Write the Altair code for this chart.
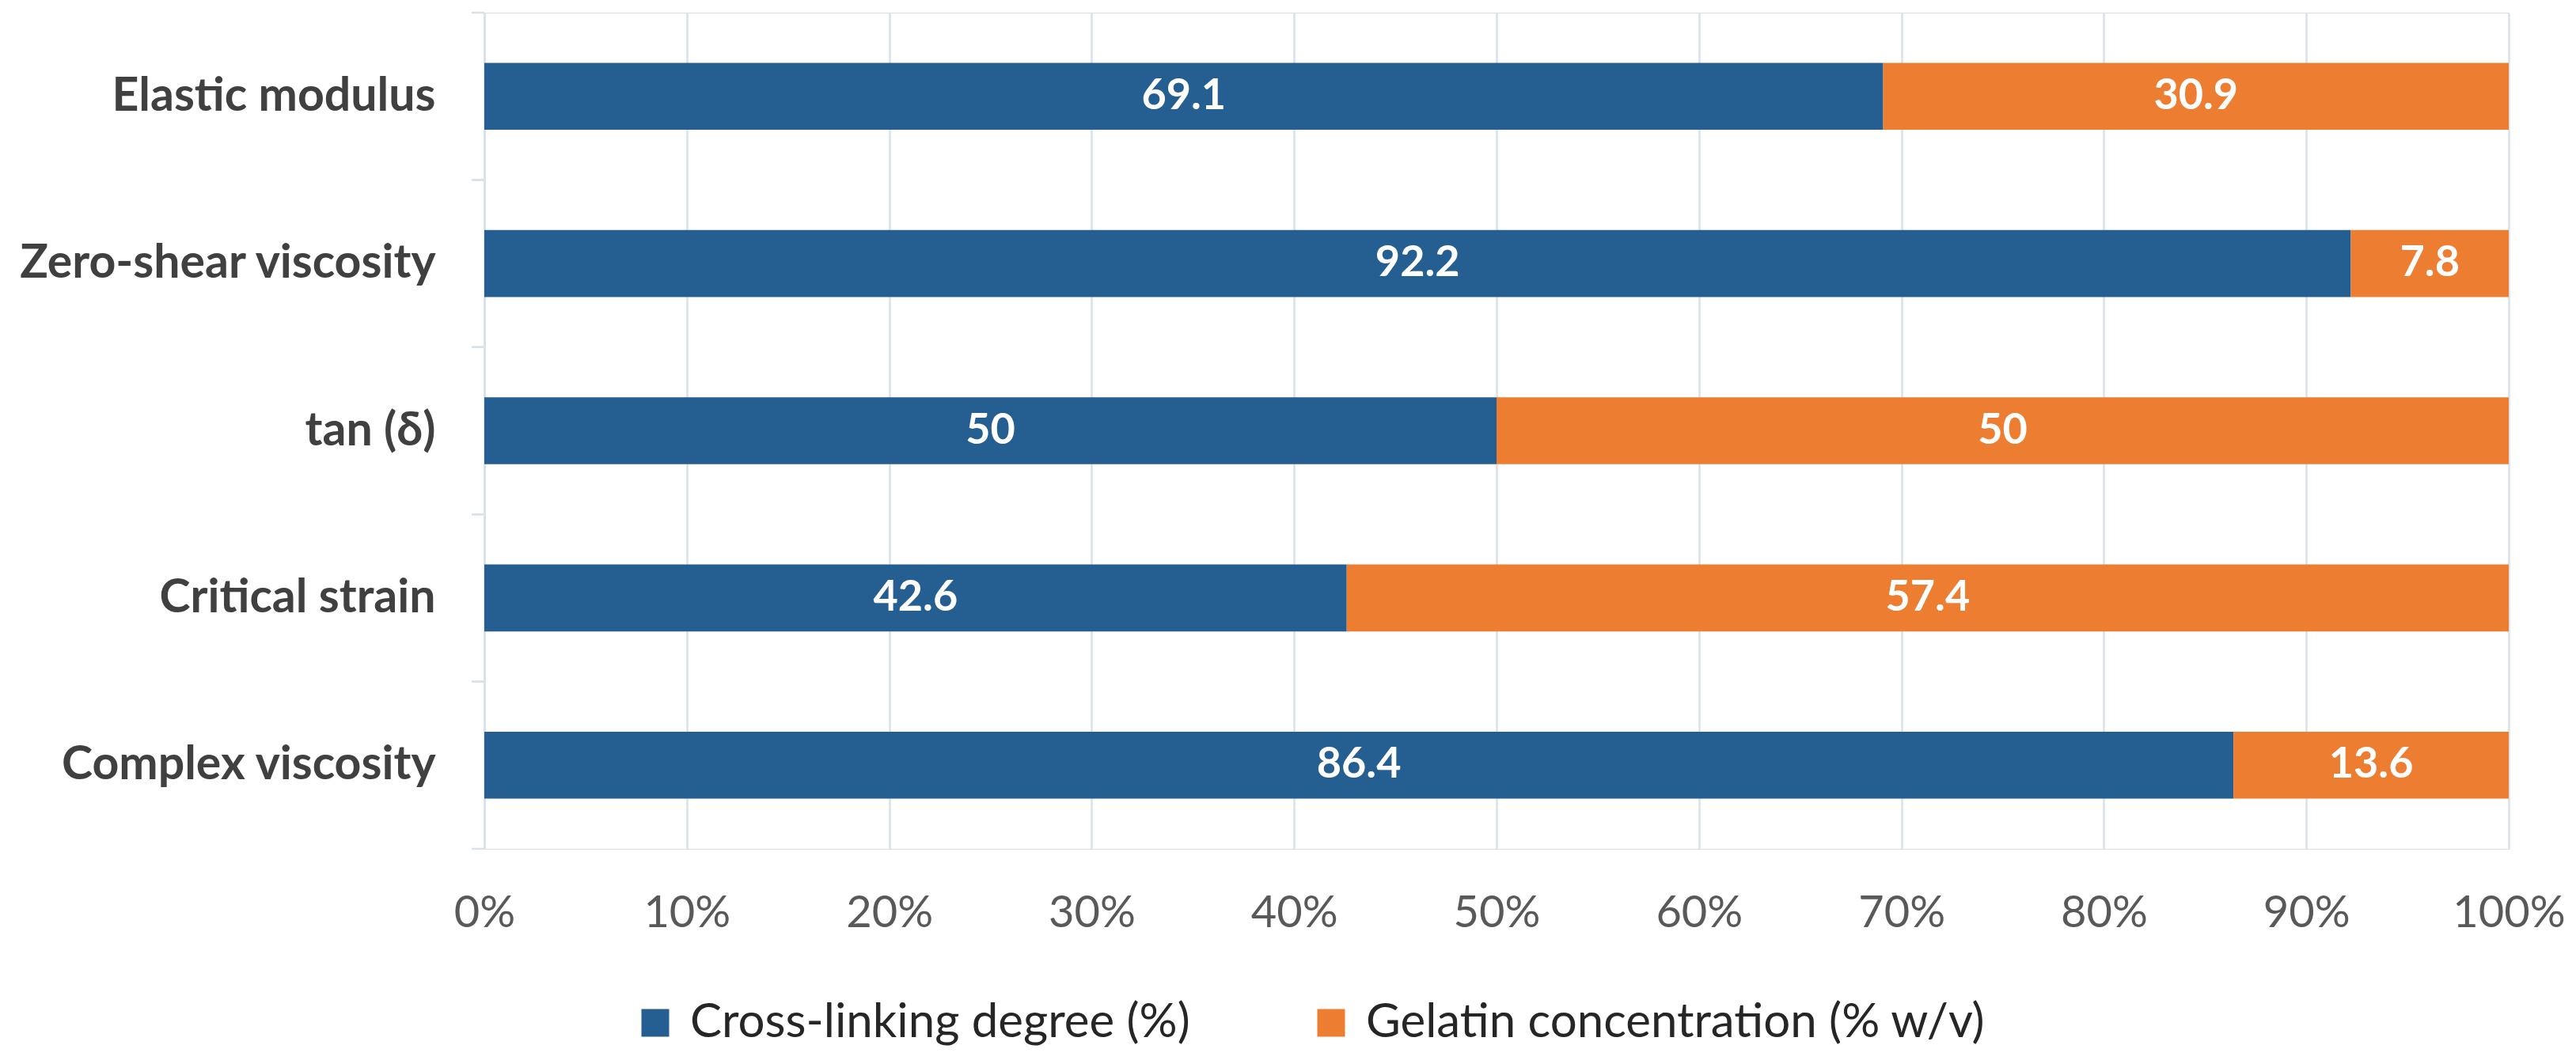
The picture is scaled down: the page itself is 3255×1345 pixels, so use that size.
import altair as alt
import pandas as pd

categories = ["Elastic modulus", "Zero-shear viscosity", "tan (δ)", "Critical strain", "Complex viscosity"]
series_names = ["Cross-linking degree (%)", "Gelatin concentration (% w/v)"]
cross_linking = [69.1, 92.2, 50, 42.6, 86.4]
gelatin = [30.9, 7.8, 50, 57.4, 13.6]
x_ticks = [0, 10, 20, 30, 40, 50, 60, 70, 80, 90, 100]
colors = ["#255E91", "#ED7D31"]

rows = []
for i, c in enumerate(categories):
    for j, vals in enumerate([cross_linking, gelatin]):
        v = vals[i]
        rows.append({"category": c, "series": series_names[j], "order": j,
                     "value": v, "label": f"{v:g}"})
df = pd.DataFrame(rows)

FONT = "Lato"
GRID = "#D9E1EA"

yscale = alt.Scale(domain=categories, paddingInner=0.6, paddingOuter=0.3)

base = alt.Chart(df).transform_window(
    cum="sum(value)", groupby=["category"], sort=[alt.SortField("order")]
).transform_calculate(
    start="datum.cum - datum.value",
    mid="datum.cum - datum.value / 2",
)

bars = base.mark_bar().encode(
    y=alt.Y("category:N", scale=yscale, title=None,
            axis=alt.Axis(ticks=False, labelPadding=62, labelFont=FONT, labelFontSize=59,
                          labelFontWeight="bold", labelColor="#404040", domainColor=GRID,
                          domainWidth=2.5, grid=False, labelLimit=1000)),
    x=alt.X("start:Q", scale=alt.Scale(domain=[0, 100], nice=False), title=None,
            axis=alt.Axis(values=x_ticks, labelExpr="datum.value + '%'", domain=False,
                          ticks=False, labelPadding=54, labelFont=FONT, labelFontSize=56,
                          labelFlush=False, labelOverlap=False, labelBound=False,
                          labelColor="#595959", gridColor=GRID, gridWidth=2.5, gridOpacity=1)),
    x2="cum:Q",
    color=alt.Color("series:N", scale=alt.Scale(domain=series_names, range=colors), title=None,
                    legend=alt.Legend(orient="none", legendX=186, legendY=1247, direction="horizontal",
                                      symbolType="square", symbolSize=1225, symbolStrokeWidth=0,
                                      symbolOpacity=1, labelFont=FONT, labelFontSize=60,
                                      labelColor="#262626", labelOffset=14, columnPadding=148,
                                      padding=0, labelLimit=2000)),
)

texts = base.mark_text(font=FONT, fontSize=54, fontWeight="bold", color="white",
                       baseline="middle", align="center").encode(
    y=alt.Y("category:N", scale=yscale),
    x=alt.X("mid:Q"),
    text="label:N",
)

main = alt.layer(bars, texts)

tick_df = pd.DataFrame({"tcat": categories})
tscale = alt.Scale(domain=categories, paddingInner=0, paddingOuter=0)
ticks_top = alt.Chart(tick_df).mark_rule(color=GRID, strokeWidth=2.5).encode(
    y=alt.Y("tcat:N", scale=tscale, bandPosition=0, axis=None),
    x=alt.value(-16), x2=alt.value(0),
)
ticks_bottom = alt.Chart(tick_df).mark_rule(color=GRID, strokeWidth=2.5).encode(
    y=alt.Y("tcat:N", scale=tscale, bandPosition=1, axis=None),
    x=alt.value(-16), x2=alt.value(0),
)
ticks = alt.layer(ticks_top, ticks_bottom)

chart = alt.layer(main, ticks).resolve_scale(y="independent").properties(
    width=2558, height=1057,
    autosize=alt.AutoSizeParams(type="none"),
    padding={"left": 604, "top": 8, "right": 76, "bottom": 250},
).configure_view(stroke=None).configure(background="white")

chart.save("out.html", embed_options={"renderer": "svg", "actions": False})
